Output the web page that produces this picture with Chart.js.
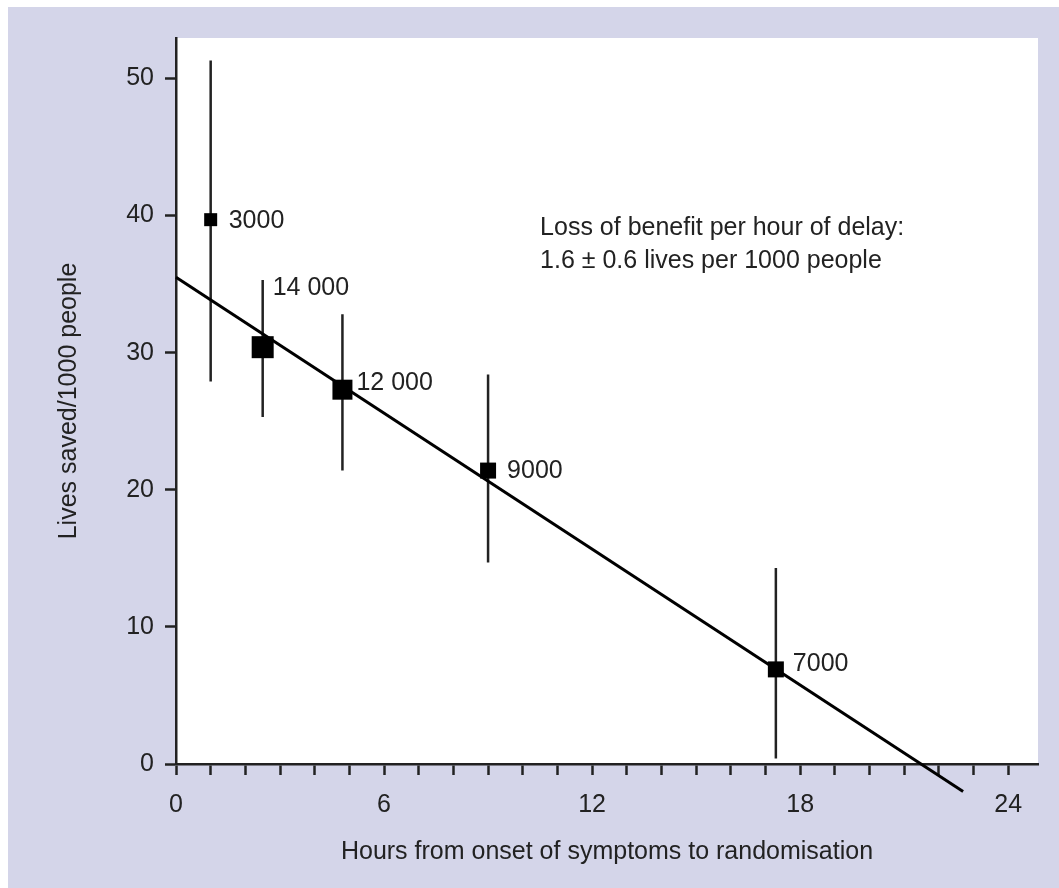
<!DOCTYPE html>
<html>
<head>
<meta charset="utf-8">
<script src="https://cdn.jsdelivr.net/npm/chart.js@4.4.1/dist/chart.umd.min.js"></script>
<style>
  html, body { margin: 0; padding: 0; background: #fff; }
</style>
</head>
<body>
<canvas id="delayChart" width="1059" height="888"></canvas>
<script>
// values
const hours = [1.0, 2.5, 4.8, 9.0, 17.3];
const livesSaved = [39.7, 30.4, 27.3, 21.4, 6.9];
const ciUpper = [51.3, 35.3, 32.8, 28.4, 14.3];
const ciLower = [27.9, 25.3, 21.4, 14.7, 0.4];
const patients = ['3000', '14 000', '12 000', '9000', '7000'];
const fitLine = [{ x: 0, y: 35.5 }, { x: 22.7, y: -2.0 }];
const xTicks = [0, 1, 2, 3, 4, 5, 6, 7, 8, 9, 10, 11, 12, 13, 14, 15, 16, 17, 18, 19, 20, 21, 22, 23, 24];
const xTickLabels = [0, 6, 12, 18, 24];
const yTicks = [0, 10, 20, 30, 40, 50];
const noteLines = ['Loss of benefit per hour of delay:', '1.6 \u00b1 0.6 lives per 1000 people'];

// styling
const FONT = 'Liberation Sans, Arial, Helvetica, sans-serif';
const INK = '#222';
const markerSides = [13, 22, 20, 16, 16];
const labelOffsets = [[18, 1], [10, -59], [14, -7], [19, 1], [17, -5]];

const markerData = hours.map((x, i) => ({ x: x, y: livesSaved[i] }));
const errorData = [];
hours.forEach((x, i) => {
    errorData.push({ x: x, y: ciLower[i] });
    errorData.push({ x: x, y: ciUpper[i] });
    errorData.push({ x: x, y: null });
});

const backgroundPlugin = {
    id: 'panelBackground',
    beforeDraw(chart) {
        const { ctx, width, height, chartArea } = chart;
        ctx.save();
        ctx.fillStyle = '#ffffff';
        ctx.fillRect(0, 0, width, height);
        ctx.fillStyle = '#d4d5e9';
        ctx.fillRect(8, 7, width - 8, height - 7);
        ctx.fillStyle = '#ffffff';
        ctx.fillRect(chartArea.left, chartArea.top, chartArea.right - chartArea.left, chartArea.bottom - chartArea.top);
        ctx.restore();
    }
};

const labelsPlugin = {
    id: 'pointLabels',
    afterDatasetsDraw(chart) {
        const { ctx } = chart;
        const meta = chart.getDatasetMeta(0);
        ctx.save();
        ctx.font = '25px ' + FONT;
        ctx.fillStyle = INK;
        ctx.textAlign = 'left';
        ctx.textBaseline = 'middle';
        meta.data.forEach((el, i) => {
            ctx.fillText(patients[i], el.x + labelOffsets[i][0], el.y + labelOffsets[i][1]);
        });
        // annotation
        const x = chart.scales.x.getPixelForValue(10.5);
        const y = chart.scales.y.getPixelForValue(39.1);
        noteLines.forEach((line, i) => ctx.fillText(line, x, y + i * 33));
        ctx.restore();
    }
};

const ctx = document.getElementById('delayChart').getContext('2d');
const delayChart = new Chart(ctx, {
    type: 'scatter',
    data: {
        datasets: [{
            label: 'Trials',
            data: markerData,
            pointStyle: 'rect',
            pointRadius: markerSides.map(s => s / Math.SQRT2),
            backgroundColor: '#000',
            borderWidth: 0
        }, {
            label: 'Fit',
            data: fitLine,
            showLine: true,
            borderColor: '#000',
            borderWidth: 3,
            pointRadius: 0,
            clip: false
        }, {
            label: 'CI',
            data: errorData,
            showLine: true,
            spanGaps: false,
            borderColor: '#222',
            borderWidth: 2.5,
            pointRadius: 0
        }]
    },
    options: {
        responsive: false,
        animation: false,
        layout: {
            autoPadding: false,
            padding: { top: 38, right: 21, left: 0, bottom: 0 }
        },
        plugins: {
            legend: { display: false },
            tooltip: { enabled: false }
        },
        scales: {
            x: {
                type: 'linear',
                min: 0,
                max: 24.86,
                afterBuildTicks: scale => { scale.ticks = xTicks.map(v => ({ value: v })); },
                afterFit: scale => { scale.height = 124; },
                ticks: {
                    autoSkip: false,
                    maxRotation: 0,
                    padding: 15,
                    color: INK,
                    font: { family: FONT, size: 25 },
                    callback: v => xTickLabels.includes(v) ? String(v) : ''
                },
                grid: { drawOnChartArea: false, drawTicks: true, tickLength: 11, tickWidth: 2.5, tickColor: INK },
                border: { display: true, color: INK, width: 2.5 },
                title: {
                    display: true,
                    text: 'Hours from onset of symptoms to randomisation',
                    color: INK,
                    font: { family: FONT, size: 25 },
                    padding: { top: 0, bottom: 21 }
                }
            },
            y: {
                type: 'linear',
                min: 0,
                max: 52.95,
                afterBuildTicks: scale => { scale.ticks = yTicks.map(v => ({ value: v })); },
                afterFit: scale => { scale.width = 176; },
                ticks: {
                    padding: 11,
                    color: INK,
                    font: { family: FONT, size: 25 }
                },
                grid: { drawOnChartArea: false, drawTicks: true, tickLength: 11, tickWidth: 2.5, tickColor: INK },
                border: { display: true, color: INK, width: 2.5 },
                title: {
                    display: true,
                    text: 'Lives saved/1000 people',
                    color: INK,
                    font: { family: FONT, size: 25 },
                    padding: { top: 54, bottom: 0 }
                }
            }
        }
    },
    plugins: [backgroundPlugin, labelsPlugin]
});
</script>
</body>
</html>
